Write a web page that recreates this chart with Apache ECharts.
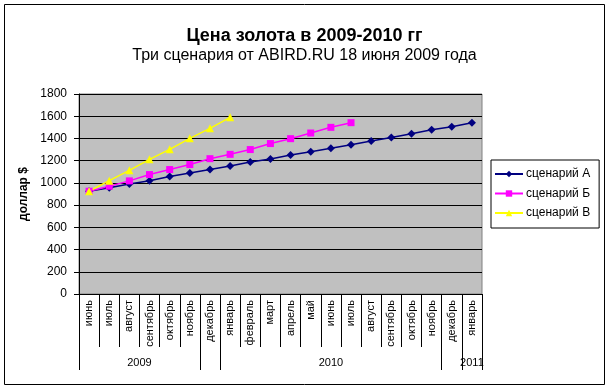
<!DOCTYPE html>
<html><head><meta charset="utf-8">
<script src="https://cdn.jsdelivr.net/npm/echarts@6/dist/echarts.min.js"></script>
<style>html,body{margin:0;padding:0;background:#fff}#c{width:609px;height:389px}</style>
</head><body><div id="c"></div>
<script>
const months = ['июнь','июль','август','сентябрь','октябрь','ноябрь','декабрь','январь','февраль','март','апрель','май','июнь','июль','август','сентябрь','октябрь','ноябрь','декабрь','январь'];
const yearLabels = ['','','2009','','','','','','','','','','2010','','','','','','','2011'];
const yearTickIdx = [0, 6, 7, 18, 19];
const seriesNames = ['сценарий А','сценарий Б','сценарий В'];
const scenarioA = [925, 957, 990, 1020, 1058, 1090, 1120, 1152, 1188, 1216, 1250, 1281, 1311, 1344, 1377, 1408, 1443, 1478, 1506, 1542];
const scenarioB = [925, 970, 1018, 1075, 1120, 1165, 1218, 1257, 1300, 1354, 1398, 1449, 1500, 1542];
const scenarioC = [925, 1020, 1113, 1212, 1302, 1401, 1491, 1590];
const yTicks = [0, 200, 400, 600, 800, 1000, 1200, 1400, 1600, 1800];

const FONT = '"Liberation Sans", Arial, sans-serif';
const chart = echarts.init(document.getElementById('c'));
chart.setOption({
  animation: false,
  backgroundColor: '#fff',
  textStyle: { fontFamily: FONT, color: '#000' },
  title: {
    text: 'Цена золота в 2009-2010 гг',
    subtext: 'Три сценария от ABIRD.RU 18 июня 2009 года',
    left: 'center', top: 22, itemGap: 3,
    textStyle: { fontFamily: FONT, fontSize: 18, fontWeight: 'bold', color: '#000' },
    subtextStyle: { fontFamily: FONT, fontSize: 16, color: '#000' }
  },
  graphic: [{
    type: 'rect', shape: { x: 4.5, y: 4.5, width: 600, height: 380 },
    style: { fill: 'none', stroke: '#000', lineWidth: 1 }, silent: true, z: 100
  }],
  legend: {
    orient: 'vertical', left: 491, top: 160,
    data: seriesNames,
    itemWidth: 28, itemHeight: 8, itemGap: 7.5,
    padding: [8, 9, 9, 3],
    borderColor: '#000', borderWidth: 1,
    textStyle: { fontFamily: FONT, fontSize: 12, lineHeight: 12, color: '#000', padding: [0, 0, 0, -2] }
  },
  grid: {
    left: 79, top: 94, right: 127, bottom: 95,
    show: true, backgroundColor: '#C0C0C0', borderColor: '#808080', borderWidth: 1
  },
  xAxis: [{
    type: 'category', data: months, boundaryGap: true, position: 'bottom',
    axisLine: { lineStyle: { color: '#000', width: 1 } },
    axisTick: { show: true, length: 53, interval: 0, lineStyle: { color: '#000' } },
    axisLabel: { interval: 0, rotate: 90, margin: 6, fontSize: 11, color: '#000', fontFamily: FONT },
    splitLine: { show: false }
  }, {
    type: 'category', data: yearLabels, boundaryGap: true, position: 'bottom', offset: 53,
    axisLine: { show: false },
    axisTick: { show: true, length: 23, interval: (i) => yearTickIdx.indexOf(i) >= 0, lineStyle: { color: '#000' } },
    axisLabel: {
      interval: 0, margin: 10, fontSize: 11, color: '#000', fontFamily: FONT,
      formatter: (v) => v === '2009' ? '{s|' + v + '}' : v,
      rich: { s: { fontSize: 11, fontFamily: FONT, color: '#000', padding: [0, 0, 0, 20] } }
    },
    splitLine: { show: false }
  }],
  yAxis: {
    type: 'value', min: 0, max: 1800, interval: 200,
    name: 'доллар $', nameLocation: 'middle', nameGap: 41, nameRotate: 90,
    nameTextStyle: { fontFamily: FONT, fontSize: 12, fontWeight: 'bold', color: '#000' },
    axisLine: { show: true, lineStyle: { color: '#000' } },
    axisTick: { show: true, length: 5, lineStyle: { color: '#000' } },
    axisLabel: { margin: 12, fontSize: 12, color: '#000', fontFamily: FONT, formatter: (v) => yTicks.indexOf(v) >= 0 ? String(v) : '' },
    splitLine: { show: true, lineStyle: { color: '#000', width: 1 } }
  },
  series: [{
    name: seriesNames[0], type: 'line', data: scenarioA,
    symbol: 'diamond', symbolSize: 8, showAllSymbol: true,
    lineStyle: { color: '#000080', width: 1.5 }, itemStyle: { color: '#000080' }
  }, {
    name: seriesNames[1], type: 'line', data: scenarioB,
    symbol: 'rect', symbolSize: 7, showAllSymbol: true,
    lineStyle: { color: '#FF00FF', width: 1.5 }, itemStyle: { color: '#FF00FF' }
  }, {
    name: seriesNames[2], type: 'line', data: scenarioC,
    symbol: 'triangle', symbolSize: 8, showAllSymbol: true,
    lineStyle: { color: '#FFFF00', width: 1.5 }, itemStyle: { color: '#FFFF00' }
  }]
});
</script></body></html>
